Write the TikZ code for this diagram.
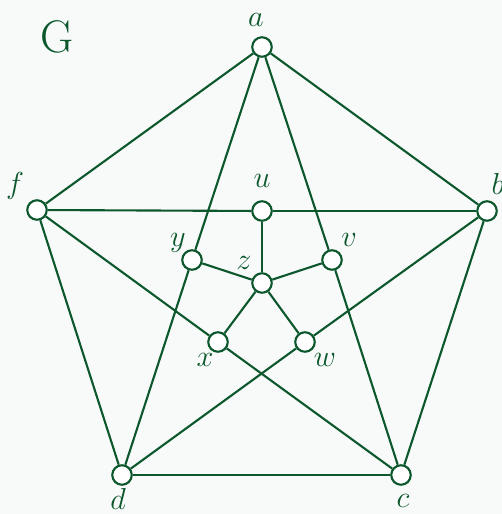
\documentclass[tikz,border=0pt]{standalone}
\usepackage{amsmath, amssymb}
\usepackage{tikz}
\usetikzlibrary{positioning}

\definecolor{grgreen}{RGB}{12,88,44}
\definecolor{grback}{RGB}{248,250,250}

\begin{document}
\begin{tikzpicture}[
      x=0.02cm, y=-0.02cm,
      vertex/.style={circle, draw=grgreen, fill=white, line width=1.2pt,
        inner sep=0pt, minimum size=3.9mm},
      edge/.style={draw=grgreen, line width=1.2pt},
      vlabel/.style={text=grgreen, inner sep=0pt, font=\fontsize{17}{19}\selectfont}
    ]

    % --- background and bounding box ---
    \fill[grback] (0,0) rectangle (502,514);
    \useasboundingbox (0,0) rectangle (502,514);

    % --- graph name ---
    \node[text=grgreen, inner sep=0pt, font=\fontsize{26}{28}\selectfont]
          (gname) at (57,37) {G};

    % ---- vertices ----
    \foreach \n/\px/\py in {a/262/47, b/487/211, c/401/475, d/122/475, f/37/210,
                            u/262/211, v/332/260, w/305/342, x/218/342,
                            y/192/260, z/262/283} {
      \node[vertex] (\n) at (\px,\py) {};
    }

    % ---- labels ----
    \foreach \n/\px/\py in {a/256/20, b/498/184, c/403/501, d/118/499, f/15/186,
                            u/262/181, v/349/240, w/325/360, x/205/360,
                            y/178/243, z/244/263} {
      \node[vlabel] (l\n) at (\px,\py) {$\n$};
    }

    % ---- edges ----
    \foreach \s/\t in {a/b, b/c, c/d, d/f, f/a,
                       a/y, y/d, a/v, v/c, f/u, u/b, f/x, x/c, b/w, w/d,
                       u/z, v/z, w/z, x/z, y/z} {
      \draw[edge] (\s) -- (\t);
    }

  \end{tikzpicture}
\end{document}
